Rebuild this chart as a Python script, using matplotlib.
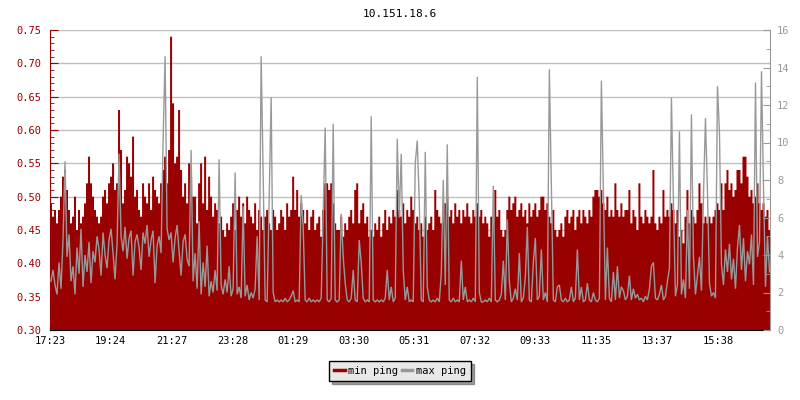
import numpy as np
import matplotlib
matplotlib.use("Agg")
import matplotlib.pyplot as plt
from matplotlib.lines import Line2D
from matplotlib.ticker import MultipleLocator, FormatStrFormatter

title = "10.151.18.6"
start_time = "17:23"
sample_minutes = 4
tick_labels = ["17:23", "19:24", "21:27", "23:28", "01:29", "03:30",
               "05:31", "07:32", "09:33", "11:35", "13:37", "15:38"]
series_names = ["min ping", "max ping"]

# min ping (left axis)
min_ping = [
    0.49, 0.47, 0.48, 0.46, 0.48, 0.50, 0.53, 0.54, 0.51, 0.48, 0.46, 0.47,
    0.50, 0.45, 0.48, 0.46, 0.47, 0.49, 0.52, 0.56, 0.52, 0.50, 0.48, 0.47,
    0.46, 0.47, 0.50, 0.51, 0.49, 0.52, 0.53, 0.55, 0.51, 0.52, 0.63, 0.57,
    0.49, 0.51, 0.56, 0.55, 0.53, 0.59, 0.50, 0.51, 0.48, 0.47, 0.52, 0.50,
    0.49, 0.52, 0.48, 0.53, 0.51, 0.50, 0.49, 0.52, 0.54, 0.56, 0.52, 0.57,
    0.74, 0.64, 0.55, 0.56, 0.63, 0.54, 0.50, 0.52, 0.49, 0.55, 0.53, 0.50,
    # segment B
    0.50, 0.46, 0.52, 0.55, 0.49, 0.56, 0.48, 0.53, 0.50, 0.47, 0.49, 0.48,
    0.46, 0.47, 0.45, 0.44, 0.46, 0.45, 0.47, 0.49, 0.45, 0.48, 0.50, 0.47,
    0.49, 0.46, 0.50, 0.48, 0.47, 0.46, 0.49, 0.45, 0.48, 0.47, 0.45, 0.47,
    0.48, 0.46, 0.45, 0.48, 0.47, 0.45, 0.46, 0.48, 0.47, 0.45, 0.49, 0.47,
    0.48, 0.53, 0.48, 0.51, 0.47, 0.49, 0.48, 0.46, 0.48, 0.45, 0.47, 0.48,
    0.45, 0.46, 0.47, 0.44, 0.48, 0.52, 0.52, 0.51, 0.52, 0.49, 0.46, 0.45,
    # segment C
    0.45, 0.47, 0.44, 0.46, 0.45, 0.47, 0.48, 0.46, 0.51, 0.52, 0.46, 0.48,
    0.49, 0.46, 0.47, 0.44, 0.45, 0.44, 0.46, 0.45, 0.47, 0.44, 0.46, 0.48,
    0.45, 0.47, 0.46, 0.48, 0.47, 0.51, 0.48, 0.47, 0.49, 0.46, 0.48, 0.47,
    0.50, 0.48, 0.46, 0.47, 0.45, 0.46, 0.44, 0.47, 0.45, 0.46, 0.47, 0.45,
    0.51, 0.48, 0.47, 0.46, 0.48, 0.49, 0.50, 0.47, 0.48, 0.46, 0.49, 0.47,
    0.48, 0.46, 0.48, 0.47, 0.49, 0.47, 0.46, 0.48, 0.47, 0.49, 0.47, 0.48,
    # segment D
    0.46, 0.47, 0.46, 0.44, 0.47, 0.46, 0.51, 0.47, 0.48, 0.45, 0.44, 0.45,
    0.48, 0.50, 0.48, 0.49, 0.50, 0.47, 0.48, 0.49, 0.47, 0.48, 0.46, 0.49,
    0.47, 0.48, 0.49, 0.47, 0.48, 0.50, 0.50, 0.48, 0.49, 0.47, 0.46, 0.48,
    0.45, 0.44, 0.45, 0.46, 0.44, 0.47, 0.48, 0.46, 0.47, 0.48, 0.45, 0.47,
    0.48, 0.46, 0.48, 0.47, 0.46, 0.48, 0.47, 0.50, 0.51, 0.51, 0.50, 0.51,
    0.49, 0.48, 0.50, 0.47, 0.48, 0.47, 0.52, 0.48, 0.47, 0.49, 0.47, 0.48,
    # segment E
    0.48, 0.51, 0.46, 0.48, 0.47, 0.45, 0.52, 0.47, 0.46, 0.48, 0.47, 0.46,
    0.47, 0.54, 0.46, 0.45, 0.47, 0.46, 0.51, 0.47, 0.48, 0.47, 0.49, 0.48,
    0.46, 0.48, 0.44, 0.45, 0.43, 0.47, 0.51, 0.46, 0.48, 0.47, 0.46, 0.48,
    0.52, 0.49, 0.46, 0.47, 0.46, 0.47, 0.46, 0.47, 0.48, 0.49, 0.48, 0.52,
    0.48, 0.52, 0.54, 0.51, 0.52, 0.50, 0.51, 0.54, 0.54, 0.52, 0.56, 0.56,
    0.53, 0.50, 0.51, 0.49, 0.50, 0.52, 0.49, 0.48, 0.49, 0.47, 0.48, 0.45,
]

# max ping (right axis)
max_ping = [
    2.6, 3.2, 2.4, 1.9, 3.6, 2.2, 4.8, 9.0, 3.9, 5.1, 2.6, 3.4,
    1.9, 4.4, 3.0, 5.4, 2.3, 4.0, 3.1, 4.7, 2.5, 4.2, 3.6, 5.0,
    4.3, 2.9, 5.2, 4.0, 3.3, 4.8, 5.4, 4.1, 2.7, 4.6, 9.4, 5.0,
    4.2, 5.5, 3.8, 4.9, 5.3, 2.9, 4.7, 5.1, 4.4, 3.2, 5.2, 4.6,
    5.6, 3.9, 4.8, 5.3, 2.5, 4.5, 5.0, 4.1, 10.1, 14.6, 5.4, 4.8,
    5.2, 3.6, 4.9, 5.6, 4.2, 2.9, 4.7, 5.1, 3.8, 3.4, 9.6, 2.6,
    # segment B
    4.1, 2.2, 5.8, 1.9, 3.6, 2.3, 4.5, 1.8, 2.6, 2.0, 3.2, 2.1,
    9.1, 2.4, 1.9, 2.7, 2.0, 3.4, 1.8, 2.2, 8.4, 1.9, 2.3, 1.7,
    6.6, 1.8, 2.4, 1.6, 2.0, 1.7, 2.2, 5.0, 1.6, 14.6, 8.3, 1.6,
    1.5, 6.9, 12.4, 2.0, 1.5, 1.6, 1.5, 1.6, 1.5, 1.7, 1.5, 1.6,
    1.8, 2.1, 1.5, 1.6, 1.5, 7.2, 5.5, 1.6, 1.5, 1.7, 1.5, 1.6,
    1.5, 1.6, 1.5, 1.7, 6.2, 10.8, 1.6, 1.5, 1.7, 11.0, 1.6, 1.5,
    # segment C
    1.6, 6.2, 3.9, 2.5, 1.6, 1.5, 1.7, 3.2, 1.6, 1.5, 4.8, 3.6,
    1.7, 1.5, 1.6, 1.5, 11.4, 1.6, 1.5, 1.6, 1.5, 1.6, 1.5, 1.7,
    3.2, 1.6, 2.3, 1.5, 1.7, 10.2, 6.0, 9.4, 3.2, 1.6, 2.3, 1.5,
    1.6, 1.5, 8.9, 10.1, 6.9, 1.6, 1.5, 9.5, 2.3, 1.6, 1.5, 1.6,
    1.5, 1.7, 1.5, 3.0, 8.0, 2.4, 9.9, 1.6, 1.5, 1.7, 1.5, 1.6,
    1.5, 3.7, 1.6, 2.3, 1.5, 1.6, 1.5, 1.7, 1.5, 13.5, 2.0, 1.5,
    # segment D
    1.5, 1.6, 1.5, 1.7, 1.5, 7.7, 1.6, 1.5, 1.6, 1.9, 3.7, 1.6,
    5.9, 2.6, 1.5, 1.7, 2.2, 1.6, 4.1, 1.5, 1.7, 2.8, 5.5, 1.6,
    1.5, 3.6, 4.9, 1.6, 1.8, 4.3, 1.6, 2.0, 1.5, 13.9, 7.6, 1.6,
    1.5, 2.3, 2.4, 1.6, 1.5, 1.7, 1.5, 1.6, 2.3, 1.5, 1.7, 4.3,
    1.6, 2.3, 1.5, 1.6, 2.5, 1.6, 1.5, 2.0, 1.6, 1.5, 1.7, 13.3,
    7.4, 1.6, 4.4, 1.7, 1.5, 3.1, 1.6, 3.4, 1.7, 2.3, 2.1, 1.6,
    # segment E
    1.8, 2.9, 1.6, 2.2, 1.7, 1.9, 1.6, 1.7, 1.5, 1.8, 1.6, 2.2,
    3.4, 3.6, 1.7, 1.6, 1.9, 2.4, 1.6, 1.8, 2.6, 3.3, 12.4, 6.8,
    1.8, 2.4, 10.6, 1.9, 2.7, 1.7, 6.4, 2.2, 11.5, 3.9, 1.9, 2.9,
    3.9, 2.1, 7.1, 11.3, 7.4, 2.5, 1.8, 2.0, 1.7, 13.0, 10.5, 3.5,
    2.4, 4.3, 3.1, 4.6, 2.7, 3.8, 2.2, 4.4, 5.6, 3.2, 4.9, 2.6,
    4.2, 3.5, 5.1, 2.4, 13.2, 3.9, 4.7, 13.8, 7.6, 2.3, 5.0, 3.1,
]

RED = "#990000"
GRAY = "#999999"
GRID = "#c0c0c0"
FONT = "DejaVu Sans Mono"
FS = 7.5


def to_minutes(hhmm):
    h, m = hhmm.split(":")
    return int(h) * 60 + int(m)


t0 = to_minutes(start_time)
x = np.arange(len(min_ping)) * sample_minutes
tick_pos = [(to_minutes(lbl) - t0) % 1440 for lbl in tick_labels]

fig = plt.figure(figsize=(8, 4), dpi=100)
ax = fig.add_axes([50 / 800, 70 / 400, 720 / 800, 300 / 400])
ax2 = ax.twinx()

ax.set_zorder(1)
ax2.set_zorder(2)
ax2.patch.set_visible(False)

xe = np.append(x, x[-1] + sample_minutes)
ye = np.append(min_ping, min_ping[-1])
ax.fill_between(xe, 0, ye, step="post", color=RED, linewidth=0, zorder=2)
ax2.plot(x + sample_minutes / 2, max_ping, color=GRAY, linewidth=1.0,
         solid_joinstyle="miter", zorder=3)

ax.set_xlim(0, 1439)
ax.set_ylim(0.30, 0.75)
ax2.set_ylim(0, 16)

ax.yaxis.set_major_locator(MultipleLocator(0.05))
ax.yaxis.set_minor_locator(MultipleLocator(0.01))
ax.yaxis.set_major_formatter(FormatStrFormatter("%.2f"))
ax2.yaxis.set_major_locator(MultipleLocator(2))
ax2.yaxis.set_minor_locator(MultipleLocator(1))

ax.set_xticks(tick_pos)
ax.set_xticklabels(tick_labels)

ax.grid(axis="y", which="major", color=GRID, linewidth=1.0, zorder=0)
ax.set_axisbelow(True)

for s in ["top"]:
    ax.spines[s].set_visible(False)
    ax2.spines[s].set_visible(False)
ax.spines["left"].set_color(RED)
ax.spines["bottom"].set_color("black")
ax.spines["right"].set_visible(False)
ax2.spines["left"].set_visible(False)
ax2.spines["bottom"].set_visible(False)
ax2.spines["right"].set_color(GRAY)

ax.tick_params(axis="y", which="both", direction="in", colors=RED,
               labelsize=FS, pad=6)
ax.tick_params(axis="y", which="major", length=6)
ax.tick_params(axis="y", which="minor", length=3)
ax.tick_params(axis="x", direction="in", length=5, colors="black",
               labelsize=FS, pad=4)
ax2.tick_params(axis="y", which="both", direction="in", colors=GRAY,
                labelsize=FS, pad=5)
ax2.tick_params(axis="y", which="major", length=5)
ax2.tick_params(axis="y", which="minor", length=3)

for lbl in ax.get_xticklabels() + ax.get_yticklabels() + ax2.get_yticklabels():
    lbl.set_fontfamily(FONT)

fig.text(0.5, 1 - 14 / 400, title, ha="center", va="center",
         fontsize=FS + 0.5, fontfamily=FONT, color="black")

handles = [Line2D([0], [0], color=RED, linewidth=2.5),
           Line2D([0], [0], color=GRAY, linewidth=2.5)]
leg = fig.legend(handles, series_names, loc="center",
                 bbox_to_anchor=(400 / 800, 1 - 371 / 400), ncol=2,
                 frameon=True, fancybox=False, shadow=True,
                 prop={"family": FONT, "size": FS},
                 handlelength=1.0, handletextpad=0.3, columnspacing=0.4,
                 borderpad=0.5, borderaxespad=0)
leg.get_frame().set_facecolor("#e8e8e8")
leg.get_frame().set_edgecolor("black")
leg.get_frame().set_linewidth(1.0)
leg.get_frame().set_alpha(1.0)

fig.savefig("out.png", dpi=100)
